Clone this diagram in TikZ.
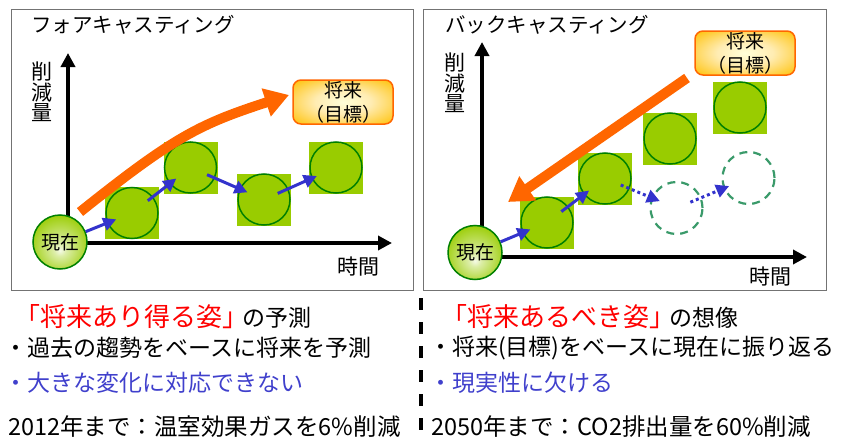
\documentclass[tikz,border=0pt]{standalone}
\usepackage{fontspec}
\setmainfont{Noto Sans CJK JP}
\usetikzlibrary{arrows.meta,calc}
\definecolor{leaf}{HTML}{99CC00}
\definecolor{dkgreen}{HTML}{008000}
\definecolor{arrowblue}{HTML}{3333CC}
\definecolor{orng}{HTML}{FF6600}
\definecolor{dashgreen}{HTML}{3A9A6A}
\definecolor{txtblue}{HTML}{4040CC}
\definecolor{boxyellow}{HTML}{FFC000}
\definecolor{txtred}{HTML}{FF0000}
\pgfdeclareradialshading{nowshade}{\pgfpoint{0bp}{-8bp}}{color(0bp)=(white!90!leaf); color(6bp)=(white!65!leaf); color(30bp)=(leaf); color(50bp)=(leaf!85!dkgreen)}
\pgfdeclareradialshading{boxshade}{\pgfpoint{0bp}{0bp}}{color(0bp)=(white!85!yellow); color(14bp)=(boxyellow!30!white); color(36bp)=(boxyellow); color(70bp)=(boxyellow!85!orng)}
\newcommand\jfs[1]{\fontsize{#1}{#1}\selectfont}
\tikzset{
  panel/.style={draw=black!55, line width=1pt},
  axisline/.style={line width=4pt, -{Triangle[length=14pt,width=14pt]}},
  sqbox/.style={fill=leaf, draw=none, minimum width=54pt, minimum height=52pt, inner sep=0pt},
  ring/.style={draw=dkgreen, line width=1.5pt},
  dcirc/.style={circle, draw=dashgreen, line width=2.2pt, dash pattern=on 8pt off 6pt, minimum size=52pt, inner sep=0pt},
  nowc/.style={circle, draw=dkgreen, line width=1.5pt, shading=nowshade, minimum size=54pt, inner sep=0pt, font=\jfs{19}},
  barrow/.style={arrowblue, line width=3pt, -{Triangle[length=13pt,width=13pt]}},
  bdots/.style={barrow, dash pattern=on 3pt off 3pt},
  oarrow/.style={orng, line width=10pt, -{Triangle[length=24pt,width=28pt]}},
  goal/.style={rounded corners=8pt, draw=orng, line width=1.5pt, shading=boxshade, minimum width=100pt, minimum height=44pt, inner sep=0pt, align=center, font=\fontsize{19}{24}\selectfont},
  title/.style={anchor=west, inner sep=0pt, font=\jfs{20.5}},
  lbl/.style={inner sep=0pt, font=\jfs{21}},
  vlbl/.style={inner sep=0pt, align=center, font=\fontsize{21}{20.5}\selectfont},
  line/.style={anchor=west, inner sep=0pt, font=\jfs{23}},
  divider/.style={line width=4pt, dash pattern=on 12pt off 12pt}
}
\begin{document}
\begin{tikzpicture}[x=1pt,y=-1pt]
\useasboundingbox (0,0) rectangle (843,439);
% panels
\draw[panel] (11,9) rectangle (413,290);
\draw[panel] (423,9) rectangle (826,290);
% titles
\node[title] (t1) at (31,25) {フォアキャスティング};
\node[title] (t2) at (445,25) {バックキャスティング};
% axes left
\coordinate (o1) at (68,243);
\coordinate (yt1) at (68,53);
\coordinate (xt1) at (392,243);
\draw[axisline] (o1) -- (yt1);
\draw[axisline] (o1) -- (xt1);
\node[vlbl] (v1) at (42,92) {削\\減\\量};
\node[lbl] (h1) at (358,267) {時間};
% axes right
\coordinate (o2) at (482,257);
\coordinate (yt2) at (482,42);
\coordinate (xt2) at (807,257);
\draw[axisline] (o2) -- (yt2);
\draw[axisline] (o2) -- (xt2);
\node[vlbl] (v2) at (455,83) {削\\減\\量};
\node[lbl] (h2) at (770,277) {時間};
% left squares
\node[sqbox] (a1) at (132,213) {};
\node[sqbox] (a2) at (190.5,167.5) {};
\node[sqbox] (a3) at (264,199.5) {};
\node[sqbox] (a4) at (336,167.5) {};
\foreach \s in {a1,a2,a3,a4} \draw[ring] (\s.center) circle[x radius=26, y radius=25.5];
% right squares
\node[sqbox] (b1) at (547,222.5) {};
\node[sqbox] (b2) at (605,178.5) {};
\node[sqbox] (b3) at (670,138.5) {};
\node[sqbox] (b4) at (740,107.5) {};
\foreach \s in {b1,b2,b3,b4} \draw[ring] (\s.center) circle[x radius=26, y radius=25.5];
\node[dcirc] (d1) at (676.5,208) {};
\node[dcirc] (d2) at (748.5,178) {};
% now circles
\node[nowc] (n1) at (60,242) {現在};
\node[nowc] (n2) at (475,252.5) {現在};
% blue arrows left
\draw[barrow, shorten >=17pt] (n1) -- (a1.center);
\draw[barrow, shorten <=20pt, shorten >=18pt] (a1.center) -- (a2.center);
\draw[barrow, shorten <=18pt, shorten >=18pt] (a2.center) -- (a3.center);
\draw[barrow, shorten <=15pt, shorten >=21pt] (a3.center) -- (a4.center);
% blue arrows right
\draw[barrow, shorten >=18pt] (n2) -- (b1.center);
\draw[barrow, shorten <=18pt, shorten >=20pt] (b1.center) -- (b2.center);
\draw[bdots, shorten <=17pt, shorten >=18pt] (b2.center) -- (d1.center);
\draw[bdots, shorten <=15pt, shorten >=21pt] (d1.center) -- (d2.center);
% orange arrows
\coordinate (os1) at (80,212);
\coordinate (oe1) at (289,95);
\draw[oarrow] (os1) .. controls (175,136) and (200,124) .. (oe1);
\coordinate (os2) at (687,78);
\coordinate (oe2) at (508,202);
\draw[oarrow] (os2) -- (oe2);
% goal boxes
\node[goal] (g1) at (343,102) {将来\\（目標）};
\node[goal] (g2) at (745,53) {将来\\（目標）};
% divider
\coordinate (dv1) at (420.5,298);
\coordinate (dv2) at (420.5,439);
\draw[divider] (dv1) -- (dv2);
% bottom texts left
\node[line] (l1) at (14,317) {\color{txtred}\jfs{26}「将来あり得る姿」\kern-6pt\color{black}\jfs{23}の予測};
\node[line] (l2) at (4,348) {・過去の趨勢をベースに将来を予測};
\node[line, text=txtblue] (l3) at (4,383) {・大きな変化に対応できない};
\node[line, font=\jfs{23.5}] (l4) at (8,427) {2012年まで：温室効果ガスを6\%削減};
% bottom texts right
\node[line] (r1) at (441,317) {\color{txtred}\jfs{26}「将来あるべき姿」\kern-6pt\color{black}\jfs{23}の想像};
\node[line] (r2) at (429,348) {・将来(目標)をベースに現在に振り返る};
\node[line, text=txtblue] (r3) at (429,383) {・現実性に欠ける};
\node[line, font=\jfs{23.5}] (r4) at (431,427) {2050年まで：CO2排出量を60\%削減};
\end{tikzpicture}
\end{document}
